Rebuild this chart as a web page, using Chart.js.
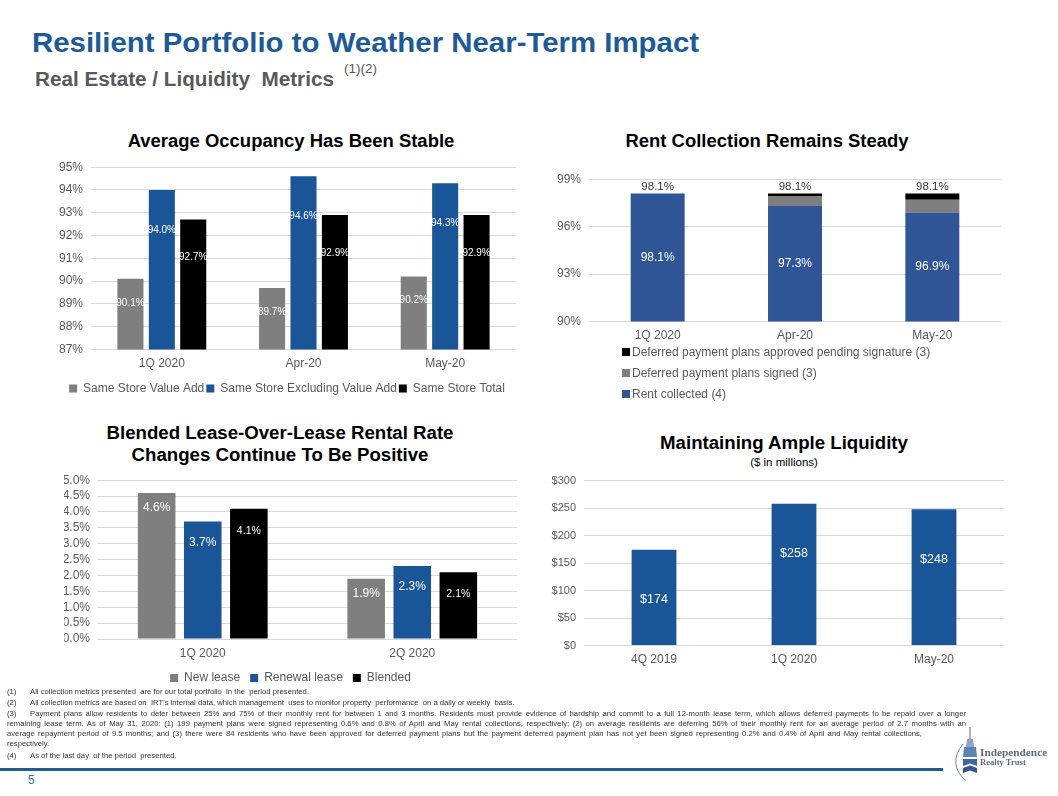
<!DOCTYPE html>
<html>
<head>
<meta charset="utf-8">
<title>Resilient Portfolio</title>
<script src="https://cdn.jsdelivr.net/npm/chart.js@4.4.1/dist/chart.umd.min.js"></script>
<style>
    body { margin: 0; width: 1058px; height: 796px; position: relative; overflow: hidden; background: #fff;
           font-family: "Liberation Sans", Arial, sans-serif; }
    .abs { position: absolute; }
    .main-title { left: 32px; top: 27px; font-size: 28px; font-weight: bold; color: #1d5a98; white-space: nowrap;
                  transform: scaleX(1.05); transform-origin: left center; }
    .sub-title { left: 35px; top: 67px; font-size: 20.7px; font-weight: bold; color: #595959; white-space: nowrap; }
    .sub-title .sup { font-size: 13.5px; font-weight: normal; position: relative; top: -13px; margin-left: 10px; }
    .chart-title { width: 600px; text-align: center; font-weight: bold; color: #000; font-size: 17.5px; line-height: 22px;
                   transform: scaleX(1.055); }
    .chart-sub { width: 600px; text-align: center; color: #000; font-size: 11.5px; }
    .legend-v { left: 622px; top: 344px; font-size: 12px; color: #595959; }
    .legend-v div { height: 21px; line-height: 16px; white-space: nowrap; }
    .legend-v span { display: inline-block; width: 8px; height: 8px; margin-right: 2px; vertical-align: 0px; }
    .fn { position: absolute; left: 7px; font-size: 7.7px; line-height: 10px; color: #333; white-space: nowrap; }
    .fn.just { width: 959px; text-align: justify; text-align-last: justify; }
    .fn .num { display: inline-block; width: 23px; }
    .rule { left: 0; top: 768px; width: 943px; height: 3px; background: #245b8d; }
    .page { left: 28px; top: 773px; font-size: 12px; color: #2e75b6; }
</style>
</head>
<body>

<div class="abs main-title">Resilient Portfolio to Weather Near-Term Impact</div>
<div class="abs sub-title">Real Estate / Liquidity&nbsp; Metrics<span class="sup">(1)(2)</span></div>

<div class="abs chart-title" style="left:-9px; top:130px;">Average Occupancy Has Been Stable</div>
<div class="abs chart-title" style="left:467px; top:130px;">Rent Collection Remains Steady</div>
<div class="abs chart-title" style="left:-20px; top:422px; transform:scaleX(1.065);">Blended Lease-Over-Lease Rental Rate<br>Changes Continue To Be Positive</div>
<div class="abs chart-title" style="left:484px; top:432px; transform:scaleX(1.065);">Maintaining Ample Liquidity</div>
<div class="abs chart-sub" style="left:484px; top:456px;">($ in millions)</div>

<div class="abs" style="left:40px; top:151.5px; width:485px; height:252.5px;"><canvas id="occupancyChart"></canvas></div>
<div class="abs" style="left:550px; top:163.5px; width:460px; height:186.5px;"><canvas id="rentChart"></canvas></div>
<div class="abs legend-v" id="rentLegend"></div>
<div class="abs" style="left:40px; top:465px; width:485px; height:229px;"><canvas id="leaseChart"></canvas></div>
<div class="abs" style="left:540px; top:465.5px; width:472px; height:204.5px;"><canvas id="liquidityChart"></canvas></div>

<!-- footnotes -->
<div class="fn" style="top:687px;"><span class="num">(1)</span>All collection metrics presented&nbsp; are for our total portfolio&nbsp; in the&nbsp; period presented.</div>
<div class="fn" style="top:698px;"><span class="num">(2)</span>All collection metrics are based on&nbsp; IRT's internal data, which management&nbsp; uses to monitor property&nbsp; performance&nbsp; on a daily or weekly&nbsp; basis.</div>
<div class="fn just" style="top:709px;"><span class="num">(3)</span>Payment plans allow residents to defer between 25% and 75% of their monthly rent for between 1 and 3 months. Residents must provide evidence of hardship and commit to a full 12-month lease term, which allows deferred payments to be repaid over a longer</div>
<div class="fn just" style="top:719px;">remaining lease term. As of May 31, 2020: (1) 199 payment plans were signed representing 0.6% and 0.8% of April and May rental collections, respectively; (2) on average residents are deferring 56% of their monthly rent for an average period of 2.7 months with an</div>
<div class="fn just" style="top:729px; width:915px;">average repayment period of 9.5 months; and (3) there were 84 residents who have been approved for deferred payment plans but the payment deferred payment plan has not yet been signed representing 0.2% and 0.4% of April and May rental collections,</div>
<div class="fn" style="top:739px;">respectively.</div>
<div class="fn" style="top:751px;"><span class="num">(4)</span>As of the last day&nbsp; of the period&nbsp; presented.</div>

<div class="abs rule"></div>
<div class="abs page">5</div>

<!-- company logo -->
<svg class="abs" style="left:945px; top:722px;" width="110" height="72" viewBox="0 0 110 72">
    <path d="M18 22 Q2 42 21 59" fill="none" stroke="#5b86b0" stroke-width="1"/>
    <line x1="25" y1="5" x2="25" y2="17" stroke="#4a6f9a" stroke-width="1"/>
    <path d="M22 17 L28 17 L29 25 L21 25 Z" fill="#8aa5c6"/>
    <path d="M19 25 L31 25 L32 35 L18 35 Z" fill="#5f83b1"/>
    <path d="M18 37 L32 37 L32 44 L25 41.5 L18 44 Z" fill="#3f66a0"/>
    <path d="M18 46 L25 43.5 L32 46 L32 51 L25 48.5 L18 51 Z" fill="#2f5894"/>
    <text x="35" y="33.5" font-family="Liberation Serif, serif" font-weight="bold" font-size="11.3" fill="#5f6c80">Independence</text>
    <text x="35" y="42.5" font-family="Liberation Serif, serif" font-weight="bold" font-size="8.6" fill="#5f6c80">Realty Trust</text>
</svg>

<script>
// Chart data
const occupancyCategories = ['1Q 2020', 'Apr-20', 'May-20'];
const occupancyValueAdd = [90.1, 89.7, 90.2];
const occupancyExValueAdd = [94.0, 94.6, 94.3];
const occupancyTotal = [92.7, 92.9, 92.9];
const occupancyTicks = [87, 88, 89, 90, 91, 92, 93, 94, 95];

const rentCategories = ['1Q 2020', 'Apr-20', 'May-20'];
const rentCollected = [98.1, 97.3, 96.9];
const rentPlansSigned = [0, 0.6, 0.8];
const rentPlansPending = [0, 0.2, 0.4];
const rentTicks = [90, 93, 96, 99];

const leaseCategories = ['1Q 2020', '2Q 2020'];
const leaseNew = [4.6, 1.9];
const leaseRenewal = [3.7, 2.3];
const leaseBlended = [4.1, 2.1];
const leaseTicks = [0, 0.5, 1, 1.5, 2, 2.5, 3, 3.5, 4, 4.5, 5];

const liquidityCategories = ['4Q 2019', '1Q 2020', 'May-20'];
const liquidityValues = [174, 258, 248];
const liquidityTicks = [0, 50, 100, 150, 200, 250, 300];

const GRAY = '#7f7f7f';
const BLUE = '#1a5598';
const DARK_BLUE = '#2f5597';
const BLACK = '#000000';
const TEXT = '#595959';
const GRID = '#d9d9d9';
const FONT = '"Liberation Sans", Arial, sans-serif';

Chart.defaults.font.family = FONT;
Chart.defaults.color = TEXT;
Chart.defaults.animation = false;

// Draws value labels inside bars (and stack totals above bars)
const barLabels = {
    id: 'barLabels',
    afterDatasetsDraw(chart) {
        const ctx = chart.ctx;
        const yScale = chart.scales.y;
        ctx.save();
        ctx.textAlign = 'center';
        ctx.textBaseline = 'middle';
        chart.data.datasets.forEach((ds, i) => {
            if (!ds.labelFormat) return;
            const meta = chart.getDatasetMeta(i);
            meta.data.forEach((bar, j) => {
                const v = ds.data[j];
                if (!v) return;
                let y;
                if (ds.labelCenter) {
                    // middle of the visible part of the bar
                    const top = yScale.getPixelForValue(v);
                    const bottom = yScale.getPixelForValue(yScale.min);
                    y = (top + bottom) / 2;
                } else {
                    y = yScale.getPixelForValue(v) + ds.labelOffset;
                }
                ctx.fillStyle = ds.labelColor || '#fff';
                ctx.font = ds.labelSize + 'px ' + FONT;
                ctx.fillText(ds.labelFormat(v), bar.x, y);
            });
        });
        const totals = chart.options.plugins.barLabels && chart.options.plugins.barLabels.totals;
        if (totals) {
            const meta = chart.getDatasetMeta(0);
            ctx.fillStyle = '#333333';
            ctx.font = '11.5px ' + FONT;
            meta.data.forEach((bar, j) => {
                const sum = chart.data.datasets.reduce((a, d) => a + d.data[j], 0);
                ctx.fillText(sum.toFixed(1) + '%', bar.x, yScale.getPixelForValue(sum) - 7);
            });
        }
        ctx.restore();
    }
};

function yAxis(min, max, ticks, fmt, width, size) {
    return {
        min: min,
        max: max,
        afterBuildTicks: (s) => { s.ticks = ticks.map(v => ({ value: v })); },
        afterFit: (s) => { s.width = width; },
        border: { display: false },
        grid: { color: GRID, drawTicks: false },
        ticks: { padding: 8, autoSkip: false, color: TEXT, font: { size: size }, callback: fmt }
    };
}

function xAxis(height, size) {
    return {
        afterFit: (s) => { s.height = height; },
        border: { display: false },
        grid: { display: false, drawTicks: false },
        ticks: { padding: 7, color: TEXT, font: { size: size } }
    };
}

// Average occupancy
new Chart(document.getElementById('occupancyChart'), {
    type: 'bar',
    data: {
        labels: occupancyCategories,
        datasets: [
            { label: 'Same Store Value Add', data: occupancyValueAdd, backgroundColor: GRAY,
              labelFormat: v => v.toFixed(1) + '%', labelOffset: 24, labelSize: 10 },
            { label: 'Same Store Excluding Value Add', data: occupancyExValueAdd, backgroundColor: BLUE,
              labelFormat: v => v.toFixed(1) + '%', labelOffset: 40, labelSize: 10 },
            { label: 'Same Store Total', data: occupancyTotal, backgroundColor: BLACK,
              labelFormat: v => v.toFixed(1) + '%', labelOffset: 38, labelSize: 10 }
        ]
    },
    options: {
        responsive: true,
        maintainAspectRatio: false,
        categoryPercentage: 0.665,
        barPercentage: 0.83,
        layout: { padding: { top: 0, right: 9, bottom: 0, left: 18 } },
        scales: {
            x: xAxis(31, 12),
            y: yAxis(87, 95, occupancyTicks, v => v + '%', 33, 12)
        },
        plugins: {
            tooltip: { enabled: false },
            legend: {
                position: 'bottom',
                labels: { boxWidth: 8, boxHeight: 8, padding: 2, color: TEXT, font: { size: 12 } }
            }
        }
    },
    plugins: [barLabels]
});

// Rent collection (stacked)
const rentChart = new Chart(document.getElementById('rentChart'), {
    type: 'bar',
    data: {
        labels: rentCategories,
        datasets: [
            { label: 'Rent collected (4)', data: rentCollected, backgroundColor: DARK_BLUE,
              labelFormat: v => v.toFixed(1) + '%', labelCenter: true, labelSize: 12 },
            { label: 'Deferred payment plans signed (3)', data: rentPlansSigned, backgroundColor: GRAY },
            { label: 'Deferred payment plans approved pending signature (3)', data: rentPlansPending, backgroundColor: BLACK }
        ]
    },
    options: {
        responsive: true,
        maintainAspectRatio: false,
        categoryPercentage: 1,
        barPercentage: 0.393,
        layout: { padding: { top: 0, right: 9, bottom: 0, left: 0 } },
        scales: {
            x: Object.assign(xAxis(29, 12), { stacked: true }),
            y: Object.assign(yAxis(90, 99, rentTicks, v => v + '%', 39, 12), { stacked: true })
        },
        plugins: {
            tooltip: { enabled: false },
            legend: { display: false },
            barLabels: { totals: true }
        }
    },
    plugins: [barLabels]
});

// Vertical legend for the rent chart, built from its datasets (top item = top of stack)
const rentLegend = document.getElementById('rentLegend');
rentChart.data.datasets.slice().reverse().forEach(ds => {
    const row = document.createElement('div');
    row.innerHTML = '<span style="background:' + ds.backgroundColor + '"></span>' + ds.label;
    rentLegend.appendChild(row);
});

// Lease-over-lease rate changes
new Chart(document.getElementById('leaseChart'), {
    type: 'bar',
    data: {
        labels: leaseCategories,
        datasets: [
            { label: 'New lease', data: leaseNew, backgroundColor: GRAY,
              labelFormat: v => v.toFixed(1) + '%', labelOffset: 15, labelSize: 12 },
            { label: 'Renewal lease', data: leaseRenewal, backgroundColor: BLUE,
              labelFormat: v => v.toFixed(1) + '%', labelOffset: 21, labelSize: 12 },
            { label: 'Blended', data: leaseBlended, backgroundColor: BLACK,
              labelFormat: v => v.toFixed(1) + '%', labelOffset: 22, labelSize: 10.5 }
        ]
    },
    options: {
        responsive: true,
        maintainAspectRatio: false,
        categoryPercentage: 0.66,
        barPercentage: 0.815,
        layout: { padding: { top: 0, right: 8, bottom: 0, left: 24 } },
        scales: {
            x: xAxis(23, 12),
            y: yAxis(0, 5, leaseTicks, v => v.toFixed(1) + '%', 34, 12)
        },
        plugins: {
            tooltip: { enabled: false },
            legend: {
                position: 'bottom',
                labels: { boxWidth: 8, boxHeight: 8, padding: 10, color: TEXT, font: { size: 12 } }
            }
        }
    },
    plugins: [barLabels]
});

// Liquidity
new Chart(document.getElementById('liquidityChart'), {
    type: 'bar',
    data: {
        labels: liquidityCategories,
        datasets: [
            { label: 'Liquidity', data: liquidityValues, backgroundColor: BLUE,
              labelFormat: v => '$' + v, labelOffset: 50, labelSize: 12.5 }
        ]
    },
    options: {
        responsive: true,
        maintainAspectRatio: false,
        categoryPercentage: 1,
        barPercentage: 0.32,
        layout: { padding: { top: 0, right: 8, bottom: 0, left: 0 } },
        scales: {
            x: xAxis(25, 12),
            y: yAxis(0, 300, liquidityTicks, v => '$' + v, 44, 11)
        },
        plugins: {
            tooltip: { enabled: false },
            legend: { display: false }
        }
    },
    plugins: [barLabels]
});
</script>
</body>
</html>
